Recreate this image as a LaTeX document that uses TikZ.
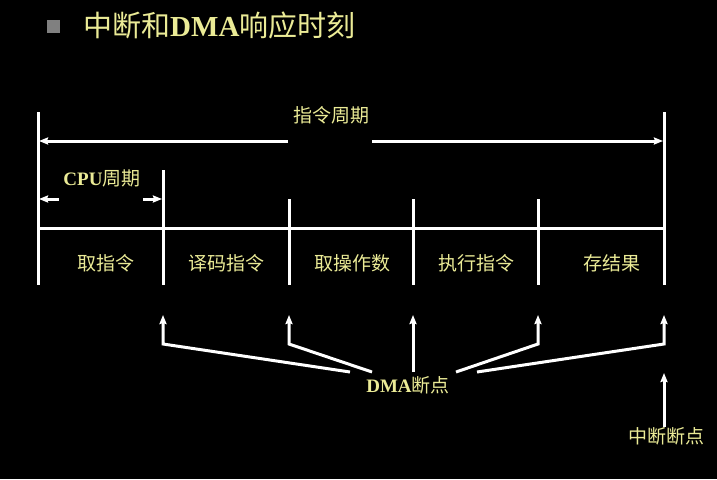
\documentclass[tikz,border=0pt]{standalone}
\usepackage{fontspec}
\setmainfont{Liberation Serif}
\newfontfamily\cjk{Noto Sans CJK SC}
\usetikzlibrary{arrows.meta}
\definecolor{ylw}{RGB}{235,235,150}
\definecolor{bul}{RGB}{128,128,128}

\begin{document}
\begin{tikzpicture}[x=1pt,y=-1pt,
  wl/.style={white,line width=3pt},
  arr/.style={wl,-{Stealth[length=9pt,width=7pt,inset=1pt]}},
  lbl/.style={text=ylw,inner sep=0pt,font=\cjk\fontsize{19}{19}\selectfont}]
  \fill[black] (0,0) rectangle (717,479);
  % title
  \node[fill=bul,minimum size=13pt,inner sep=0pt] (bullet) at (53,26) {};
  \node[lbl,anchor=west,font=\cjk\fontsize{29}{29}\selectfont] (title) at (83,25)
    {中断和{\rmfamily\bfseries DMA}响应时刻};
  % ticks of the instruction cycle
  \foreach \i/\x/\t in {0/38/112,1/163/170,2/289/199,3/413/199,4/538/199,5/664/112}{
    \coordinate (top\i) at (\x,\t);
    \coordinate (bot\i) at (\x,285);
    \draw[wl] (top\i) -- (bot\i);
  }
  \draw[wl] (38,228) -- (664,228);
  % instruction cycle
  \node[lbl] (icyc) at (331,115) {指令周期};
  \draw[arr] (288,141) -- (39,141);
  \draw[arr] (372,141) -- (663,141);
  % cpu cycle
  \node[lbl] (cpu) at (102,178) {{\rmfamily\bfseries CPU}周期};
  \draw[arr] (59,199) -- (39,199);
  \draw[arr] (143,199) -- (162,199);
  % phases
  \node[lbl] (fetch) at (106,263) {取指令};
  \node[lbl] (decode) at (226,263) {译码指令};
  \node[lbl] (oper) at (352,263) {取操作数};
  \node[lbl] (exec) at (476,263) {执行指令};
  \node[lbl] (store) at (612,263) {存结果};
  % DMA breakpoints
  \node[lbl] (dma) at (408,385) {{\rmfamily\bfseries DMA}断点};
  \draw[arr] (350,372) -- (163,344) -- (163,315);
  \draw[arr] (372,372) -- (289,344) -- (289,315);
  \draw[arr] (413,372) -- (413,315);
  \draw[arr] (456,372) -- (538,344) -- (538,315);
  \draw[arr] (477,372) -- (664,344) -- (664,315);
  % interrupt breakpoint
  \node[lbl] (intr) at (666,436) {中断断点};
  \draw[arr] (664,427) -- (664,373);
\end{tikzpicture}
\end{document}
